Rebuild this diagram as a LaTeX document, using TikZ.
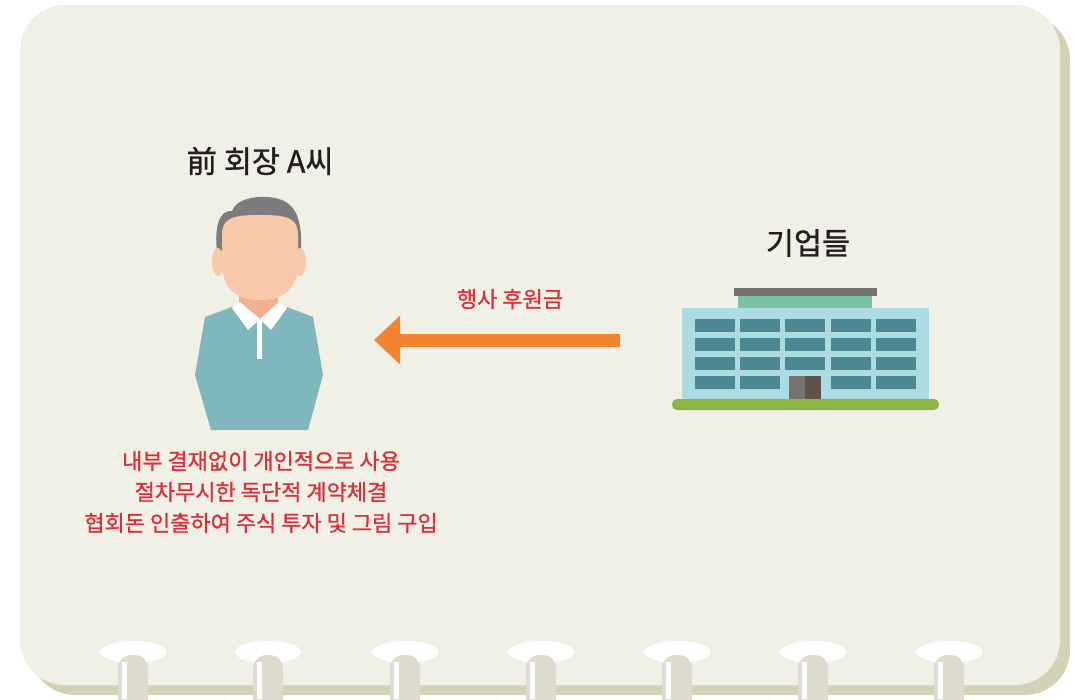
\documentclass[tikz,border=0pt]{standalone}
\usepackage{fontspec}
\setmainfont{Noto Sans CJK KR}
\newfontfamily\medkr[FakeBold=1]{Noto Sans CJK KR}
\usetikzlibrary{arrows.meta,positioning}
\definecolor{cardbg}{HTML}{F1F0E7}
\definecolor{cardshade}{HTML}{D4D2B4}
\definecolor{ringbar}{HTML}{DCDBCD}
\definecolor{inkgray}{HTML}{231F20}
\definecolor{notered}{HTML}{D9303A}
\definecolor{fundorange}{HTML}{F5822E}
\definecolor{hair}{HTML}{7D7B7E}
\definecolor{skin}{HTML}{F5C9A9}
\definecolor{skindark}{HTML}{F2B08F}
\definecolor{shirt}{HTML}{7FB7BD}
\definecolor{wall}{HTML}{ACDCE2}
\definecolor{window}{HTML}{4B8893}
\definecolor{roof}{HTML}{757170}
\definecolor{roofgreen}{HTML}{78C2A6}
\definecolor{doorgray}{HTML}{777270}
\definecolor{doorbrown}{HTML}{5F524B}
\definecolor{grass}{HTML}{8DB543}
\tikzset
{
    titlenode/.style = {font=\medkr\fontsize{30.5}{32}\selectfont, text=inkgray, inner sep=0pt},
    notenode/.style  = {font=\medkr\fontsize{22}{31}\selectfont, text=notered, align=center, inner sep=0pt},
    fundarrow/.style = {draw=fundorange, line width=13pt, -{Triangle[length=26pt,width=47pt]}},
    windowbox/.style = {fill=window},
    ringhole/.style  = {fill=white},
    ringwire/.style  = {fill=ringbar, rounded corners=13pt}
}

\begin{document}
\begin{tikzpicture}[x=1pt, y=-1pt]
\useasboundingbox (0,0) rectangle (1075,699);
\clip (0,0) rectangle (1075,699);

% notebook card
\fill[cardshade, rounded corners=45pt] (30,15) rectangle (1070,695);
\fill[cardbg, rounded corners=45pt] (20,5) rectangle (1060,685);

% ring binding
\foreach \x in {133,268,405,541,677,813,949}
{
    \fill[ringhole] (\x,652) ellipse [x radius=33, y radius=11];
    \fill[ringwire] (\x-15,730) rectangle (\x+15,655);
    \fill[white] (\x-11,662) rectangle (\x-6,699);
}

% former chairman
\fill[hair] (217,252) .. controls (214,225) and (220,210) .. (232,211)
  .. controls (236,199) and (255,196) .. (268,197)
  .. controls (292,199) and (303,212) .. (301,252) -- cycle;
\fill[skin] (218,262) ellipse [x radius=6, y radius=14];
\fill[skin] (300,262) ellipse [x radius=6, y radius=14];
\fill[skindark] (239,285) rectangle (278,321);
\fill[skin] (222,235) -- (222,262) .. controls (222,294) and (242,300) .. (260,300)
  .. controls (278,300) and (298,294) .. (298,262) -- (298,235)
  .. controls (298,218) and (288,215) .. (260,215)
  .. controls (232,215) and (222,218) .. (222,235) -- cycle;
\fill[shirt] (205,317) -- (232,307) -- (260,323) -- (287,307) -- (313,317)
  -- (323,375) -- (308,430) -- (211,430) -- (195,375) -- cycle;
\fill[white] (232,308) -- (240,302) -- (260,319) -- (248,330) -- cycle;
\fill[white] (287,308) -- (279,302) -- (260,319) -- (271,330) -- cycle;
\fill[white] (257,320) rectangle (262,359);

% companies
\fill[roof] (734,288) rectangle (877,296);
\fill[roofgreen] (738,296) rectangle (872,309);
\fill[wall] (682,308) rectangle (929,399);
\foreach \wx in {695,740,785,831,876}
  \foreach \wy in {319,338,357}
    \fill[windowbox] (\wx,\wy) rectangle ++(40,13);
\foreach \wx in {695,740,831,876}
  \fill[windowbox] (\wx,376) rectangle ++(40,13);
\fill[doorgray] (789,376) rectangle (805,399);
\fill[doorbrown] (805,376) rectangle (821,399);
\fill[grass, rounded corners=5pt] (672,399) rectangle (939,410);

% labels
\node[titlenode] (chairman) at (260,161) {前 회장 A씨};
\node[titlenode] (companies) at (808,243) {기업들};
\node[notenode] (misuse) at (261,492) {내부 결재없이 개인적으로 사용\\절차무시한 독단적 계약체결\\협회돈 인출하여 주식 투자 및 그림 구입};

% sponsorship money
\coordinate (fundstart) at (620,340);
\coordinate (fundend) at (374,340);
\draw[fundarrow] (fundstart) -- (fundend);
\node[notenode] (fund) at (510,299) {행사 후원금};
\end{tikzpicture}
\end{document}
